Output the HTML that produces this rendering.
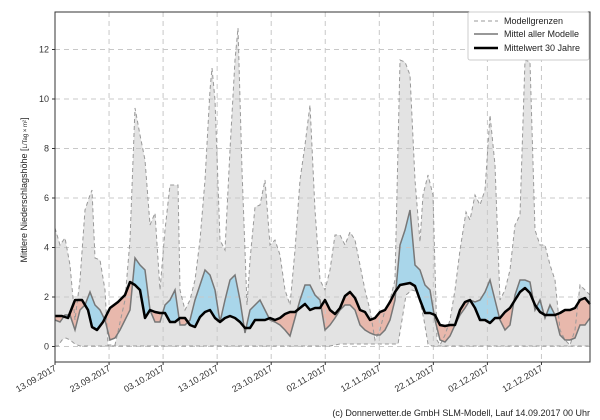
<!DOCTYPE html>
<html><head><meta charset="utf-8"><style>
html,body{margin:0;padding:0;background:#fff;width:600px;height:420px;overflow:hidden}
svg{font-family:"Liberation Sans","DejaVu Sans",sans-serif}
</style></head><body>
<svg id="s" width="600" height="420" xmlns="http://www.w3.org/2000/svg">
<rect x="55" y="12" width="535" height="350" fill="#fff"/>
<g id="fills"></g>
<g id="grid" stroke="#c8c8c8" stroke-dasharray="5,4" stroke-width="1"></g>
<g id="lines"></g>
<rect x="55" y="12" width="535" height="350" fill="none" stroke="#333" stroke-width="1"/>
<g id="ticks" font-size="9" fill="#333"></g>
<text transform="translate(27,190) rotate(-90)" text-anchor="middle" font-size="9" fill="#222">Mittlere Niederschlagshöhe [<tspan font-size="6">L/Tag × m²</tspan>]</text>
<g>
<rect x="468" y="12" width="121" height="48" fill="#fff" stroke="#ccc" rx="2"/>
<line x1="474" y1="21" x2="498" y2="21" stroke="#999" stroke-dasharray="4,3"/>
<text x="504" y="24" font-size="9" fill="#222">Modellgrenzen</text>
<line x1="474" y1="34" x2="498" y2="34" stroke="#777" stroke-width="1.5"/>
<text x="504" y="37" font-size="9" fill="#222">Mittel aller Modelle</text>
<line x1="474" y1="48" x2="498" y2="48" stroke="#000" stroke-width="2.5"/>
<text x="504" y="51" font-size="9" fill="#222">Mittelwert 30 Jahre</text>
</g>
<text x="590" y="416" text-anchor="end" font-size="9" fill="#222">(c) Donnerwetter.de GmbH SLM-Modell, Lauf 14.09.2017 00 Uhr</text>
</svg>
<script>
const NS="http://www.w3.org/2000/svg";
function el(p,t,a){const e=document.createElementNS(NS,t);for(const k in a)e.setAttribute(k,a[k]);p.appendChild(e);return e;}
function P(s){const a=s.trim().split(/\s+/).map(Number);const r=[];for(let i=0;i<a.length;i+=2)r.push([a[i],a[i+1]]);return r;}
function interp(pts,x){for(let i=0;i<pts.length-1;i++){if(x>=pts[i][0]&&x<=pts[i+1][0]){const t=(x-pts[i][0])/(pts[i+1][0]-pts[i][0]||1);return pts[i][1]+t*(pts[i+1][1]-pts[i][1]);}}return x<pts[0][0]?pts[0][1]:pts[pts.length-1][1];}
const up=P(`55 228 60 245 65 238 70 265 75 320 80 280 85 210 90 195 92 190 95 258 100 260 105 290 108 345 115 345 125 300 130 240 135 108 140 135 145 160 150 225 155 213 160 290 165 230 170 185 178 185 180 290 185 310 190 300 195 280 200 240 205 180 210 90 212 68 215 100 220 240 225 250 230 150 235 60 238 28 242 170 247 305 250 260 255 207 260 205 265 180 270 245 275 240 280 255 285 290 290 305 295 250 300 180 305 145 310 105 315 210 320 280 325 290 330 270 335 235 340 235 345 245 350 232 355 240 360 265 365 290 370 310 375 340 380 330 385 310 390 300 395 280 400 60 405 62 410 75 415 180 420 242 423 195 428 175 433 195 437 340 440 345 445 335 450 320 455 290 460 250 466 212 470 220 475 195 480 205 485 190 490 115 495 165 500 300 505 290 510 270 515 225 520 215 525 60 530 62 535 230 540 245 545 245 550 265 555 280 560 330 565 340 570 345 575 330 580 285 585 290 590 295`);
const lo=P(`55 346 58 346 62 340 66 338 70 340 75 344 80 346 330 346 340 344 390 344 398 344 402 320 406 295 412 290 418 292 424 320 428 344 432 346 590 346`);
const cl=P(`55 316 62 316 68 318 75 300 82 300 88 310 92 327 97 330 103 322 110 308 118 302 125 295 130 282 135 285 140 290 145 318 150 310 155 312 160 313 165 313 170 322 175 322 180 318 185 318 190 325 195 327 200 317 205 312 210 310 215 318 220 322 225 318 230 316 235 318 240 322 245 328 250 328 255 320 260 320 265 320 270 318 275 320 280 318 285 314 290 312 295 312 300 308 305 304 310 310 315 308 320 308 325 300 330 310 335 314 340 308 345 296 350 292 355 298 360 310 365 312 370 320 375 318 380 312 385 310 390 302 395 292 400 285 405 284 410 283 415 286 420 300 425 313 430 313 435 315 440 325 445 326 450 325 455 325 460 310 465 302 470 300 475 308 480 320 485 320 490 323 495 318 500 318 505 312 510 308 515 300 520 292 525 288 530 293 535 305 540 312 545 315 550 315 555 315 560 313 565 310 570 310 575 308 580 300 585 298 590 304`);
const mm=P(`55 320 60 322 65 315 70 315 75 330 80 310 85 305 90 292 95 305 100 310 105 320 110 340 115 338 120 330 125 320 130 310 135 258 140 265 145 270 150 310 155 322 160 322 165 305 170 300 175 290 180 325 185 325 190 320 195 300 200 285 205 270 210 275 215 290 220 322 225 300 230 280 235 275 240 300 245 333 250 310 255 305 260 300 265 310 270 320 275 322 280 325 285 330 290 336 295 318 300 300 305 285 310 285 315 295 320 300 325 330 330 325 335 318 340 310 345 305 350 305 355 310 360 325 365 330 370 333 375 335 380 335 385 330 390 320 395 300 400 245 405 230 410 210 415 265 420 270 425 285 430 290 435 320 440 340 445 342 450 336 455 325 460 315 465 308 470 300 475 302 480 300 485 292 490 280 495 300 500 320 505 330 510 325 515 295 520 280 525 280 530 282 535 310 540 300 545 318 550 305 555 315 560 335 565 340 570 340 575 338 580 325 585 325 590 318`);
const F=document.getElementById('fills'),L=document.getElementById('lines'),G=document.getElementById('grid'),T=document.getElementById('ticks');
// envelope
let d="M"+up.map(p=>p.join(",")).join(" L")+" L"+lo.slice().reverse().map(p=>p.join(",")).join(" L")+"Z";
el(F,"path",{d:d,fill:"#e3e3e3"});
// between fills, 1px steps
for(let x=55;x<590;x+=1){
 const a1=interp(mm,x),b1=interp(cl,x),a2=interp(mm,x+1),b2=interp(cl,x+1);
 const c=((a1+a2)<(b1+b2))?"#a9d6ea":"#e8b8ac";
 el(F,"polygon",{points:`${x},${a1} ${x+1.2},${a2} ${x+1.2},${b2} ${x},${b1}`,fill:c});
}
// grid
for(let v=0;v<=12;v+=2){const y=346.5-v*24.75;el(G,"line",{x1:55,x2:590,y1:y,y2:y});
 const t=el(T,"text",{x:49,y:y+3,"text-anchor":"end"});t.textContent=v;el(T,"line",{x1:52,x2:55,y1:y,y2:y,stroke:"#333"});}
const labs=["13.09.2017","23.09.2017","03.10.2017","13.10.2017","23.10.2017","02.11.2017","12.11.2017","22.11.2017","02.12.2017","12.12.2017"];
labs.forEach((s,i)=>{const x=55+i*54.05;if(i>0)el(G,"line",{x1:x,x2:x,y1:12,y2:362});
 el(T,"line",{x1:x,x2:x,y1:362,y2:365,stroke:"#333"});
 const t=el(T,"text",{transform:`translate(${x+2},${370}) rotate(-30)`,"text-anchor":"end"});t.textContent=s;});
function pl(pts,a){el(L,"polyline",Object.assign({points:pts.map(p=>p.join(",")).join(" "),fill:"none"},a));}
pl(up,{stroke:"#999",  "stroke-dasharray":"4,3","stroke-width":1});
pl(lo,{stroke:"#999","stroke-dasharray":"4,3","stroke-width":1});
pl(mm,{stroke:"#777","stroke-width":1.5});
pl(cl,{stroke:"#000","stroke-width":2.5,"stroke-linejoin":"round"});
</script>
</body></html>
